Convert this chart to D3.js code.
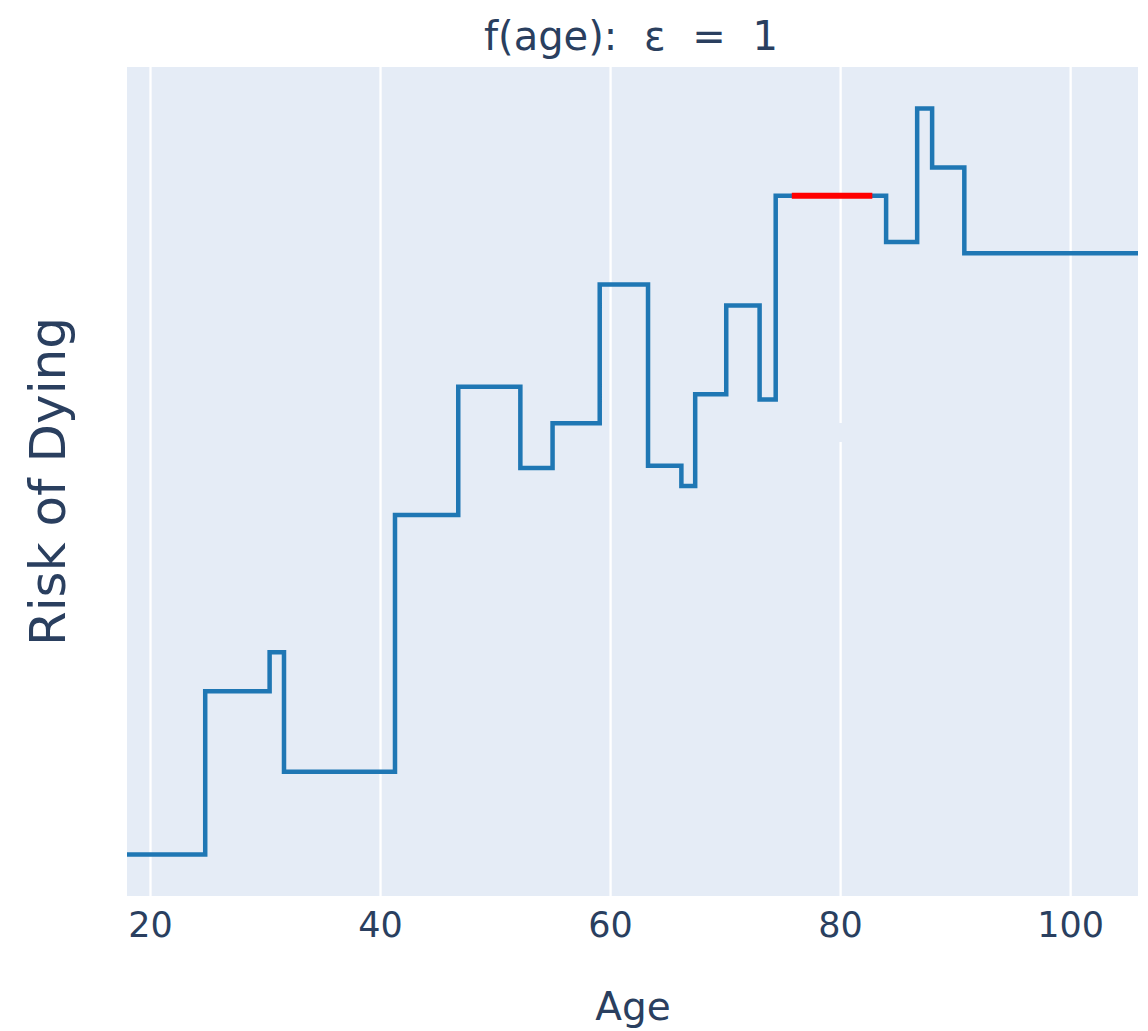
<!DOCTYPE html>
<html>
<head>
<meta charset="utf-8">
<script src="https://cdn.jsdelivr.net/npm/d3@7"></script>
<style>
  html, body { margin: 0; padding: 0; background: #ffffff; }
  svg { display: block; }
  text { font-family: "DejaVu Sans", Verdana, sans-serif; fill: #2a3f5f; }
</style>
</head>
<body>
<svg id="chart" width="1148" height="1031"></svg>
<script>
// Step breakpoints (age where each level starts) and the risk level held from there on
const ages   = [18, 24.8, 30.4, 31.65, 41.3, 46.8, 52.2, 55.0, 59.1, 63.3, 66.2, 67.4, 70.1, 73.0, 74.4, 84.0, 86.7, 88.0, 90.8];
const risk   = [0.000, 0.219, 0.271, 0.111, 0.455, 0.627, 0.518, 0.578, 0.764, 0.521, 0.494, 0.617, 0.736, 0.610, 0.883, 0.821, 1.000, 0.921, 0.806];
const ageEnd = 105.9;

// Highlighted interval on the curve
const highlightAges = [75.8, 82.8];
const highlightRisk = 0.883;

// Axis ticks
const xTicks = [20, 40, 60, 80, 100];

const titleText  = "f(age): ε = 1";
const xTitleText = "Age";
const yTitleText = "Risk of Dying";

const svg = d3.select("#chart");
const plot = { left: 127, right: 1138, top: 67, bottom: 896 };

const x = d3.scaleLinear().domain([ages[0], ageEnd]).range([plot.left, plot.right]);
const rMin = d3.min(risk), rMax = d3.max(risk), pad = (rMax - rMin) / 18;
const y = d3.scaleLinear().domain([rMin - pad, rMax + pad]).range([plot.bottom, plot.top]);

// Plot background
svg.append("rect")
  .attr("x", plot.left).attr("y", plot.top)
  .attr("width", plot.right - plot.left).attr("height", plot.bottom - plot.top)
  .attr("fill", "#e5ecf6");

// Vertical grid lines + tick labels
const xAxis = d3.axisBottom(x).tickValues(xTicks).tickSize(-(plot.bottom - plot.top)).tickPadding(12).tickFormat(d3.format("d"));
const gx = svg.append("g").attr("transform", `translate(0,${plot.bottom})`).call(xAxis);
gx.select(".domain").remove();
gx.selectAll(".tick line").attr("stroke", "#ffffff").attr("stroke-width", 2.3);
gx.selectAll(".tick text")
  .attr("y", 41).attr("dy", 0)
  .style("font-size", "35px").style("fill", "#2a3f5f")
  .style("font-family", "\"DejaVu Sans\", Verdana, sans-serif");

// small break in the 80 grid line
svg.append("rect")
  .attr("x", x(80) - 3).attr("y", 423).attr("width", 6).attr("height", 19)
  .attr("fill", "#e5ecf6");

// Step curve
const pts = ages.map((a, i) => [a, risk[i]]).concat([[ageEnd, risk[risk.length - 1]]]);
const line = d3.line().x(d => x(d[0])).y(d => y(d[1])).curve(d3.curveStepAfter);
svg.append("path")
  .datum(pts)
  .attr("d", line)
  .attr("fill", "none")
  .attr("stroke", "#1f77b4")
  .attr("stroke-width", 4.5)
  .attr("stroke-linejoin", "miter");

// Highlighted segment
svg.append("line")
  .attr("x1", x(highlightAges[0])).attr("x2", x(highlightAges[1]))
  .attr("y1", y(highlightRisk)).attr("y2", y(highlightRisk))
  .attr("stroke", "#ff0000").attr("stroke-width", 6);

// Titles
svg.append("text")
  .attr("x", 631).attr("y", 50)
  .attr("text-anchor", "middle")
  .style("font-size", "40px")
  .style("word-spacing", "14px")
  .text(titleText);

svg.append("text")
  .attr("x", 633).attr("y", 1020)
  .attr("text-anchor", "middle")
  .style("font-size", "39px")
  .text(xTitleText);

svg.append("text")
  .attr("transform", `translate(65,${(plot.top + plot.bottom) / 2}) rotate(-90)`)
  .attr("text-anchor", "middle")
  .style("font-size", "50px")
  .text(yTitleText);
</script>
</body>
</html>
